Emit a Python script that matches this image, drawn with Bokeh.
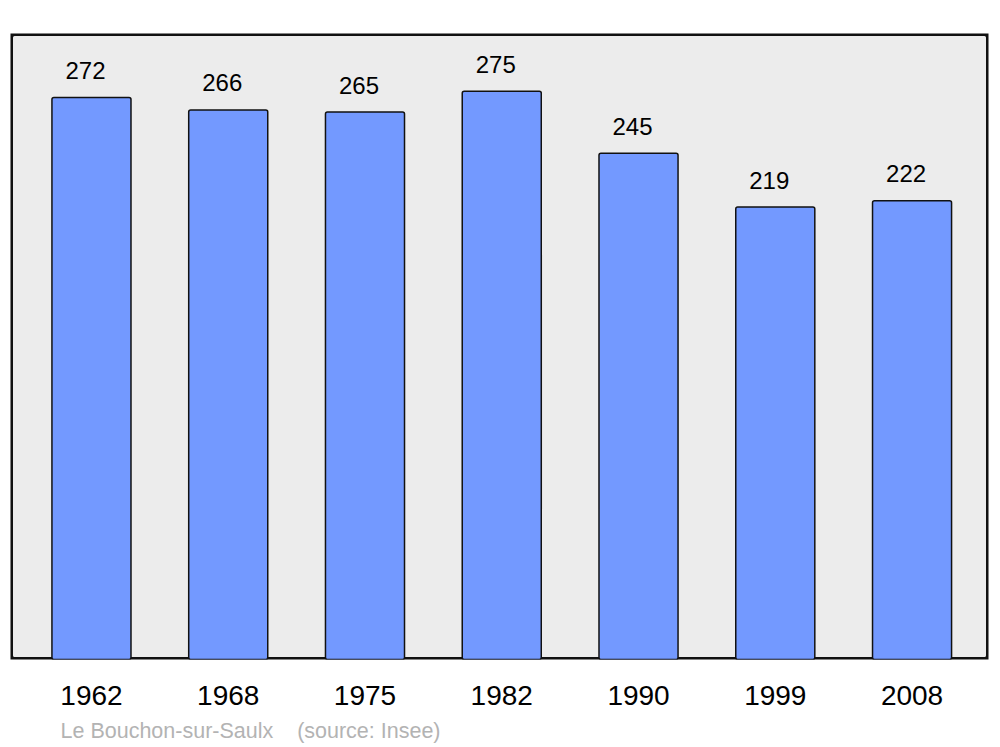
from bokeh.plotting import figure
from bokeh.models import Range1d, FixedTicker, BoxAnnotation, Title, ColumnDataSource
from bokeh.core.properties import value
from bokeh.embed import file_html
from bokeh.resources import INLINE

years = ["1962", "1968", "1975", "1982", "1990", "1999", "2008"]
population = [272, 266, 265, 275, 245, 219, 222]
commune = "Le Bouchon-sur-Saulx"
source = "(source: Insee)"

FONT = "Liberation Sans"
idx = list(range(len(years)))
src = ColumnDataSource(dict(x=idx, top=population, label=[str(v) for v in population]))

p = figure(width=991, height=744, frame_width=978, frame_height=626,
           x_range=Range1d(-0.592, len(years) - 1 + 0.559), y_range=Range1d(0, 303),
           output_backend="svg", toolbar_location=None,
           min_border_left=10, min_border_right=3, min_border_top=33, min_border_bottom=10)
p.background_fill_color = None
p.border_fill_color = "white"
p.outline_line_color = None
p.grid.visible = False
p.yaxis.visible = False

bg = BoxAnnotation(fill_color="#ececec", fill_alpha=1.0, line_color="#111111",
                   line_alpha=1.0, line_width=5, border_radius=4, level="underlay")
p.add_layout(bg)

p.vbar(x="x", top="top", width=0.578, bottom=0, source=src, fill_color="#7399ff",
       line_color="#111111", line_width=1.5, border_radius=2)

p.text(x="x", y="top", text="label", source=src, text_font=value(FONT),
       text_font_size="24px", text_align="center", text_baseline="alphabetic",
       x_offset=-6, y_offset=-27, text_color="black")

ax = p.xaxis[0]
ax.ticker = FixedTicker(ticks=idx)
ax.major_label_overrides = {i: y for i, y in zip(idx, years)}
ax.major_label_text_font = FONT
ax.major_label_text_font_size = "28px"
ax.major_label_text_color = "black"
ax.axis_line_color = None
ax.major_tick_line_color = None
ax.minor_tick_line_color = None
ax.major_label_standoff = 20

footer = Title(text=commune + "\u00a0" * 4 + source, align="left", offset=50,
               text_font=FONT, text_font_size="21.5px", text_font_style="normal",
               text_color="#b3b3b3", standoff=18)
p.add_layout(footer, "below")

open("out.html", "w").write(file_html(p, INLINE))
